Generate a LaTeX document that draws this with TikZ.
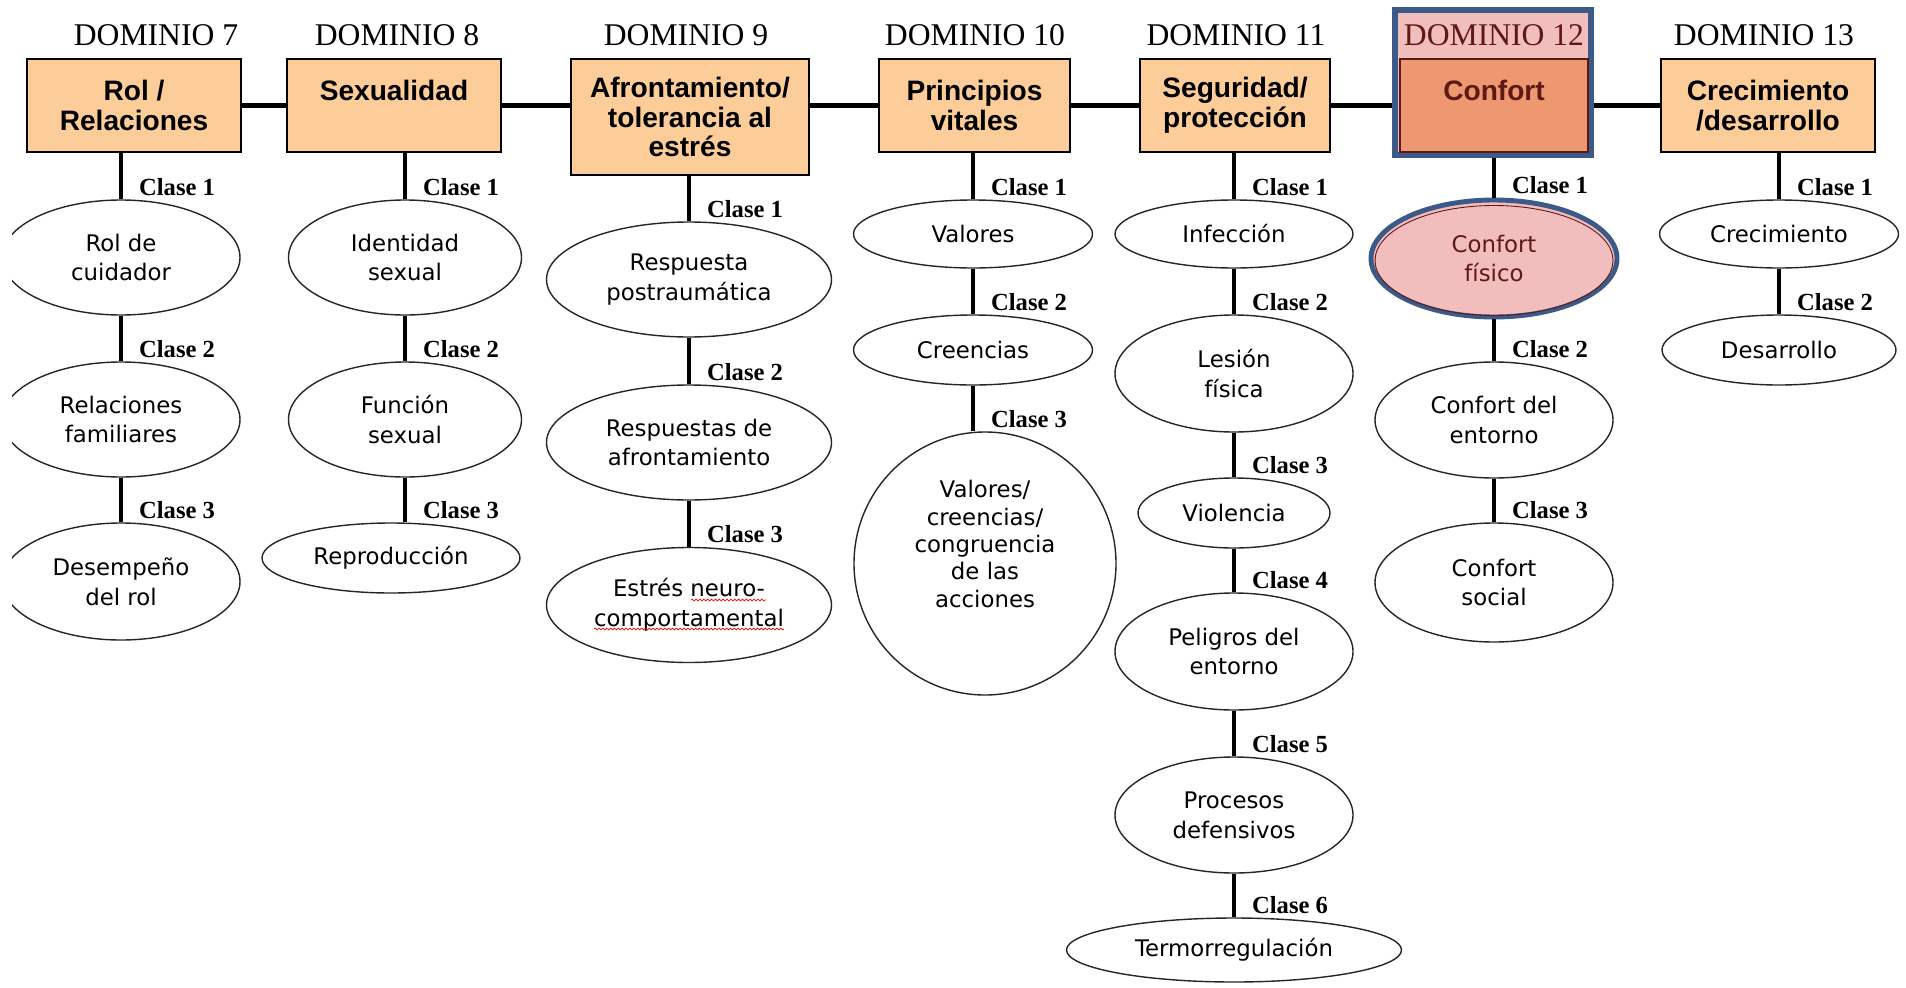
\documentclass[tikz,border=0pt]{standalone}
\usepackage{fontspec}
\setmainfont{Liberation Serif}
\setsansfont{Liberation Sans}
\newfontfamily\elfont{DejaVu Sans}
\usepackage{tikz}
\usetikzlibrary{shapes,positioning,calc,backgrounds,decorations.pathmorphing}
\usepackage{xcolor}

\definecolor{peach}{RGB}{252,204,153}
\definecolor{salmon}{RGB}{237,152,112}
\definecolor{rosa}{RGB}{241,189,189}
\definecolor{frameblue}{RGB}{60,90,135}
\definecolor{darkred}{RGB}{95,25,20}

\tikzset{
  px/.style 2 args={minimum width=#1*0.02cm, minimum height=#2*0.02cm},
  dominio/.style={font=\fontsize{18}{20}\selectfont, anchor=base, inner sep=0pt},
  dombox/.style={draw=black, line width=0.9pt, fill=peach, align=center, inner sep=0pt,
    font=\sffamily\bfseries\fontsize{16}{17}\selectfont},
  clase/.style={ellipse, draw=black!85, line width=0.8pt, fill=white, align=center, inner sep=0pt,
    font=\elfont\fontsize{13}{17}\selectfont},
  numclase/.style={font=\bfseries\fontsize{14}{16}\selectfont, anchor=base west, inner sep=0pt,
    xshift=0.32cm, yshift=0.08cm},
  conn/.style={line width=2.4pt},
  spellwave/.style={red, line width=0.4pt, decorate, decoration={snake, amplitude=0.5pt, segment length=2.2pt}}
}

\begin{document}
\begin{tikzpicture}[x=0.02cm, y=-0.02cm]
    \useasboundingbox (0,0) rectangle (1906,987);
    \clip (12,0) rectangle (1906,987);

    % Highlighted frame of domain 12
    \node[draw=frameblue, line width=3.4pt, fill=rosa, px={196}{145}] (fc) at (1493,82.5) {};

    % Domain titles
    \node[dominio] (d7) at (156,45) {DOMINIO 7};
    \node[dominio] (d8) at (397,45) {DOMINIO 8};
    \node[dominio] (d9) at (686,45) {DOMINIO 9};
    \node[dominio] (d10) at (975,45) {DOMINIO 10};
    \node[dominio] (d11) at (1236,45) {DOMINIO 11};
    \node[dominio, text=darkred] (d12) at (1494,45) {DOMINIO 12};
    \node[dominio] (d13) at (1764,45) {DOMINIO 13};

    % Domain boxes
    \node[dombox, px={214}{93}] (b7) at (134,105.5) {Rol /\\Relaciones};
    \node[dombox, px={214}{93}] (b8) at (394,105.5) {Sexualidad\\\mbox{}};
    \node[dombox, px={238}{116}] (b9) at (690,117) {Afrontamiento/\\tolerancia al\\estrés};
    \node[dombox, px={191}{93}] (b10) at (974.5,105.5) {Principios\\vitales};
    \node[dombox, px={190}{93}] (b11) at (1235,105.5) {Seguridad/\\protección};
    \node[dombox, px={188}{93}, fill=salmon, draw=darkred, text=darkred] (b12) at (1494,105.5) {Confort\\\mbox{}};
    \node[dombox, px={214}{93}] (b13) at (1768,105.5) {Crecimiento\\/desarrollo};

    % Line joining the domains
    \begin{scope}[on background layer]
        \draw[conn] (b7.east) -- (b13.west);
    \end{scope}

    % Classes of domain 7
    \node[clase, px={238}{115}] (e71) at (121,257.5) {Rol de\\cuidador};
    \node[clase, px={238}{115}] (e72) at (121,419.5) {Relaciones\\familiares};
    \node[clase, px={238}{117}] (e73) at (121,581.5) {Desempeño\\del rol};

    % Classes of domain 8
    \node[clase, px={233}{115}] (e81) at (405,257.5) {Identidad\\sexual};
    \node[clase, px={233}{115}] (e82) at (405,419.5) {Función\\sexual};
    \node[clase, px={258}{70}] (e83) at (391,558) {Reproducción};

    % Classes of domain 9
    \node[clase, px={285}{115}] (e91) at (689,279.5) {Respuesta\\postraumática};
    \node[clase, px={285}{115}] (e92) at (689,442.5) {Respuestas de\\afrontamiento};
    \node[clase, px={285}{115}] (e93) at (689,605) {Estrés neuro-\\comportamental};
    \draw[spellwave] ([shift={(2,-5)}]e93.center) -- ++(75,0);
    \draw[spellwave] ([shift={(-95,24)}]e93.center) -- ++(190,0);

    % Classes of domain 10
    \node[clase, px={239}{68}] (e101) at (973,234) {Valores};
    \node[clase, px={239}{70}] (e102) at (973,350) {Creencias};
    \node[clase, px={262}{263}] (e103) at (985,563.5) {};
    \node[font=\elfont\fontsize{13}{15.6}\selectfont, align=center, inner sep=0pt] (e103t) at (985,544)
        {Valores/\\creencias/\\congruencia\\de las\\acciones};

    % Classes of domain 11
    \node[clase, px={238}{68}] (e111) at (1234,234) {Infección};
    \node[clase, px={238}{117}] (e112) at (1234,373.5) {Lesión\\física};
    \node[clase, px={192}{70}] (e113) at (1234,513) {Violencia};
    \node[clase, px={238}{117}] (e114) at (1234,651.5) {Peligros del\\entorno};
    \node[clase, px={238}{116}] (e115) at (1234,815) {Procesos\\defensivos};
    \node[clase, px={335}{64}] (e116) at (1234,950) {Termorregulación};

    % Classes of domain 12
    \node[clase, px={246}{117}, fill=rosa, draw=frameblue, line width=2.8pt, text=darkred] (e121) at (1494,258.5) {Confort\\físico};
    \draw[darkred, line width=0.5pt] ([yshift=-0.04cm]e121.center) ellipse [x radius=2.38cm, y radius=1.1cm];
    \node[clase, px={238}{116}] (e122) at (1494,420) {Confort del\\entorno};
    \node[clase, px={238}{119}] (e123) at (1494,582.5) {Confort\\social};

    % Classes of domain 13
    \node[clase, px={239}{68}] (e131) at (1779,234) {Crecimiento};
    \node[clase, px={234}{70}] (e132) at (1779,350) {Desarrollo};

    % Domain to first class
    \foreach \up/\dn in {b7/e71, b8/e81, b9/e91, b10/e101, b11/e111, fc/e121, b13/e131}
        \draw[conn] (\dn.north |- \up.south) -- (\dn.north) node[numclase] {Clase 1};

    % Class to class
    \foreach \up/\dn/\n in {e71/e72/2, e72/e73/3, e81/e82/2, e82/e83/3, e91/e92/2, e92/e93/3,
        e101/e102/2, e102/e103/3, e111/e112/2, e112/e113/3, e113/e114/4, e114/e115/5,
        e115/e116/6, e121/e122/2, e122/e123/3, e131/e132/2}
        \draw[conn] (\up.south) -- (\up.south |- \dn.north) node[numclase] {Clase \n};
\end{tikzpicture}
\end{document}
